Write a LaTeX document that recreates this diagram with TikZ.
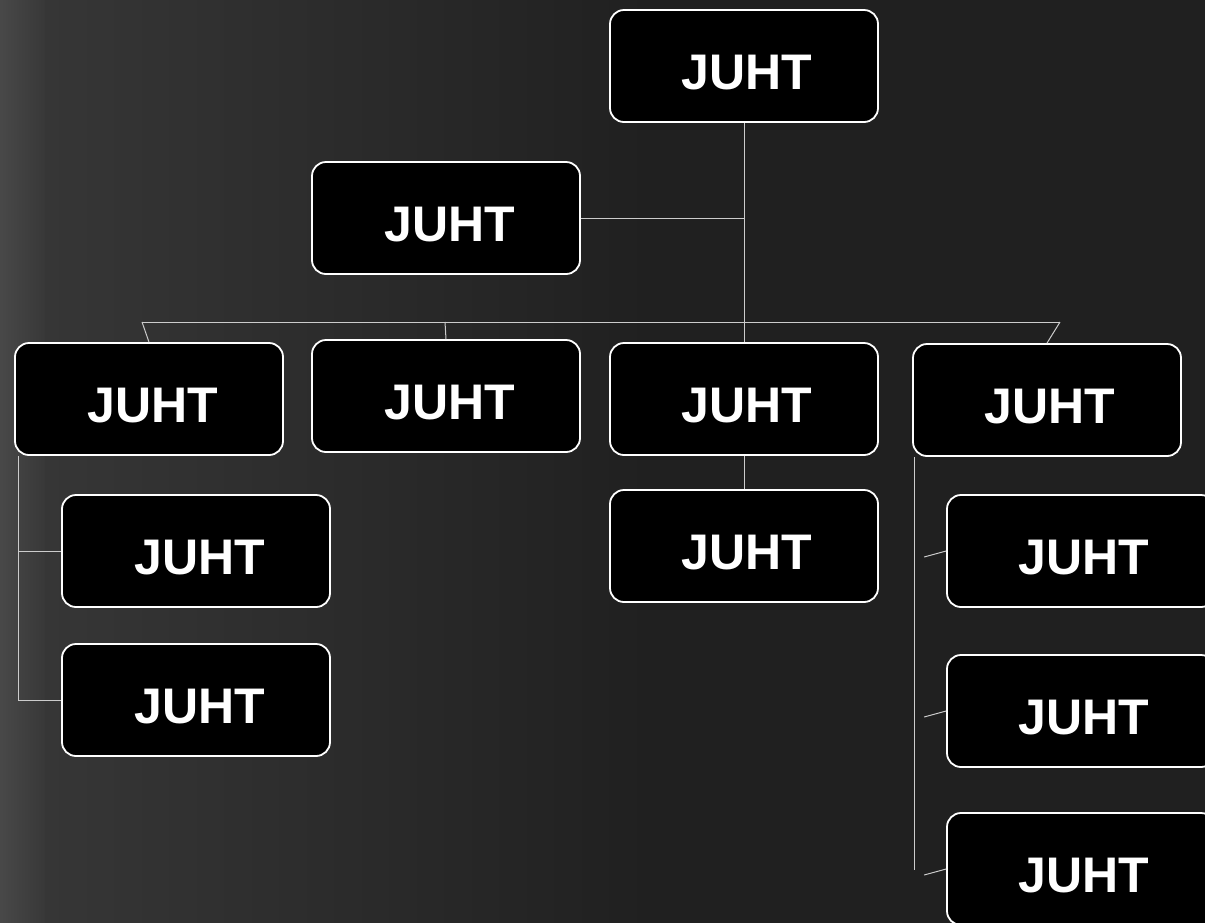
\documentclass[tikz,border=0pt]{standalone}
\usepackage{fontspec}
\setmainfont{Liberation Sans}
\begin{document}
\begin{tikzpicture}[x=1pt,y=-1pt,
  orgbox/.style={draw=white, line width=1.8pt, fill=black, rounded corners=14pt,
    minimum width=268pt, minimum height=112pt, inner sep=0pt, text=white,
    font=\fontsize{50}{60}\selectfont\bfseries, text height=47pt, text depth=0pt},
  conn/.style={draw=black!20, line width=1pt}]
\definecolor{bgbase}{HTML}{202020}
\definecolor{bgleft}{HTML}{383838}
\definecolor{bgedge}{HTML}{4C4C4C}
\useasboundingbox (0,0) rectangle (1205,922);
% background
\fill[bgbase] (-10,-10) rectangle (1215,932);
\shade[left color=bgleft, right color=bgbase] (-10,-10) rectangle (650,932);
\shade[left color=bgedge, right color=bgleft] (-10,-10) rectangle (45,932);
% boxes
\node[orgbox] (top) at (744,66)  {\hspace*{6pt}JUHT};
\node[orgbox] (dep) at (446,218) {\hspace*{8pt}JUHT};
\node[orgbox] (a)   at (149,399) {\hspace*{8pt}JUHT};
\node[orgbox] (b)   at (446,396) {\hspace*{8pt}JUHT};
\node[orgbox] (c)   at (744,399) {\hspace*{6pt}JUHT};
\node[orgbox] (d)   at (1047,400) {\hspace*{6pt}JUHT};
\node[orgbox] (a1)  at (196,551) {\hspace*{8pt}JUHT};
\node[orgbox] (a2)  at (196,700) {\hspace*{8pt}JUHT};
\node[orgbox] (c1)  at (744,546) {\hspace*{6pt}JUHT};
\node[orgbox] (d1)  at (1081,551) {\hspace*{6pt}JUHT};
\node[orgbox] (d2)  at (1081,711) {\hspace*{6pt}JUHT};
\node[orgbox] (d3)  at (1081,869) {\hspace*{6pt}JUHT};
% connectors
\coordinate (busL) at (142,322);
\coordinate (busB) at (445,322);
\coordinate (busR) at (1060,322);
\draw[conn] (top.south) -- (c.north);
\draw[conn] (dep.east) -- (dep.east -| top.south);
\draw[conn] (busL) -- (busR);
\draw[conn] (busL) -- (a.north);
\draw[conn] (busB) -- (b.north);
\draw[conn] (busR) -- (d.north);
\draw[conn] (c.south) -- (c1.north);
\coordinate (aTop) at ([xshift=4pt]a.south west);
\draw[conn] (aTop) |- (a2.west);
\draw[conn] (aTop |- a1.west) -- (a1.west);
\coordinate (dBot) at (914,870);
\coordinate (dTop) at (dBot |- d.south);
\draw[conn] (dTop) -- (dBot);
\draw[conn] ([shift={(-22pt,-6pt)}]d1.west) -- (d1.west);
\draw[conn] ([shift={(-22pt,-6pt)}]d2.west) -- (d2.west);
\draw[conn] ([shift={(-22pt,-6pt)}]d3.west) -- (d3.west);
\end{tikzpicture}
\end{document}
